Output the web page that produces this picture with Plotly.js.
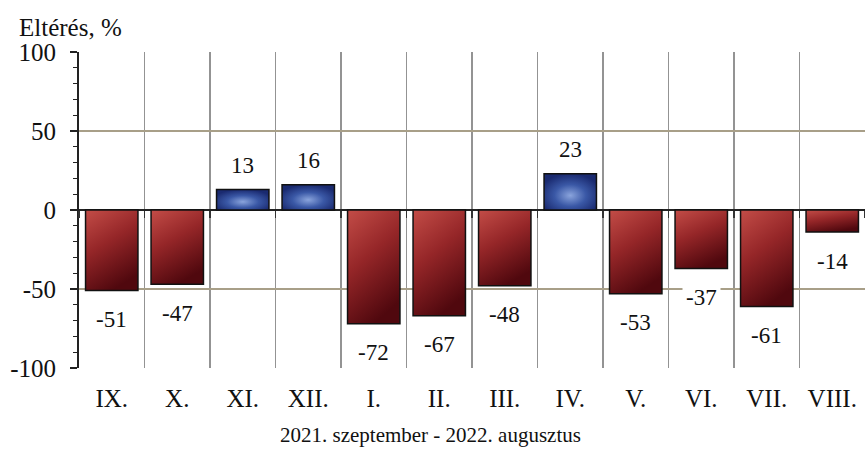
<!DOCTYPE html>
<html>
<head>
<meta charset="utf-8">
<script src="https://cdn.plot.ly/plotly-3.0.1.min.js"></script>
<style>html,body{margin:0;padding:0;background:#fff;}#chart{width:865px;height:449px;}</style>
</head>
<body>
<div id="chart"></div>
<script>
const months = ["IX.", "X.", "XI.", "XII.", "I.", "II.", "III.", "IV.", "V.", "VI.", "VII.", "VIII."];
const values = [-51, -47, 13, 16, -72, -67, -48, 23, -53, -37, -61, -14];
const yTitle = "Eltérés, %";
const xTitle = "2021. szeptember - 2022. augusztus";
const yTicks = [-100, -50, 0, 50, 100];

const RED = "#8e2024", BLUE = "#2c4690";
const FAM = "Liberation Serif, Times New Roman, serif";
const font = {family: FAM, size: 25, color: "#111"};
const labelFont = {family: FAM, size: 23, color: "#111"};
const xTitleFont = {family: FAM, size: 21, color: "#111"};

const bars = {
  type: "bar", x: months, y: values,
  marker: {color: values.map(v => v >= 0 ? BLUE : RED), line: {color: "#111", width: 1.5}},
  hoverinfo: "none", showlegend: false
};
const zeroTicks = {
  type: "scatter", mode: "markers", x: months, y: values.map(() => 0), xaxis: "x2",
  marker: {opacity: 0}, hoverinfo: "none", showlegend: false
};

const labels = values.map((v, i) => ({
  x: months[i], y: v, xref: "x", yref: "y", text: String(v), showarrow: false,
  yanchor: "middle", yshift: v >= 0 ? 24 : -29, font: labelFont, bgcolor: "#fff", borderpad: 3
}));
labels.push({xref: "paper", yref: "paper", x: -0.079, y: 1.076, xanchor: "left", yanchor: "middle",
  text: yTitle, showarrow: false, font: font});
labels.push({xref: "paper", yref: "paper", x: 0.4466, y: -0.212, xanchor: "center", yanchor: "middle",
  text: xTitle, showarrow: false, font: xTitleFont});

const layout = {
  width: 865, height: 449,
  margin: {l: 79, r: 0, t: 52, b: 81},
  paper_bgcolor: "#fff", plot_bgcolor: "#fff",
  font: font, bargap: 0.2,
  xaxis: {type: "category", tickson: "boundaries", showgrid: true, gridcolor: "#939393", gridwidth: 1.2,
    ticks: "", showline: false, zeroline: false, ticklabelstandoff: 13, tickfont: font,
    range: [-0.5, 11.5], fixedrange: true},
  xaxis2: {type: "category", overlaying: "x", anchor: "free", position: 0.5, tickson: "boundaries",
    ticks: "outside", ticklen: 7, tickcolor: "#333", tickwidth: 1.5, showgrid: false, showline: false,
    zeroline: false, showticklabels: false, range: [-0.5, 11.5], fixedrange: true},
  yaxis: {range: [-100, 100], tickvals: yTicks, ticktext: yTicks.map(String), showgrid: true, gridcolor: "#a89f88",
    gridwidth: 1.5, zeroline: true, zerolinecolor: "#222", zerolinewidth: 2,
    showline: true, linecolor: "#222", linewidth: 2, ticks: "outside", ticklen: 7, tickwidth: 1.5,
    tickcolor: "#222", ticklabelstandoff: 9, tickfont: font, fixedrange: true,
    minor: {dtick: 10, ticks: "outside", ticklen: 4, tickwidth: 1.2, tickcolor: "#222", showgrid: false}},
  annotations: labels
};

Plotly.newPlot("chart", [bars, zeroTicks], layout, {staticPlot: true}).then(gd => {
  const NS = "http://www.w3.org/2000/svg";
  const svg = gd.querySelector("svg.main-svg");
  let defs = svg.querySelector("defs");
  if (!defs) { defs = document.createElementNS(NS, "defs"); svg.insertBefore(defs, svg.firstChild); }
  function addStops(g, stops) {
    stops.forEach(([o, c]) => { const s = document.createElementNS(NS, "stop");
      s.setAttribute("offset", o); s.setAttribute("stop-color", c); g.appendChild(s); });
    defs.appendChild(g);
  }
  const lg = document.createElementNS(NS, "linearGradient");
  lg.setAttribute("id", "gRed"); lg.setAttribute("x1", "0.1"); lg.setAttribute("y1", "0");
  lg.setAttribute("x2", "0.5"); lg.setAttribute("y2", "1");
  addStops(lg, [["0", "#c04a45"], ["0.45", "#952628"], ["1", "#50080e"]]);
  const rg = document.createElementNS(NS, "radialGradient");
  rg.setAttribute("id", "gBlue"); rg.setAttribute("cx", "0.5"); rg.setAttribute("cy", "0.6"); rg.setAttribute("r", "0.6");
  addStops(rg, [["0", "#8aa4dc"], ["0.5", "#3a58a6"], ["1", "#1a2a70"]]);
  gd.querySelectorAll(".trace.bars .point path").forEach((p, i) => {
    p.style.fill = values[i] >= 0 ? "url(#gBlue)" : "url(#gRed)";
  });
});
</script>
</body>
</html>
